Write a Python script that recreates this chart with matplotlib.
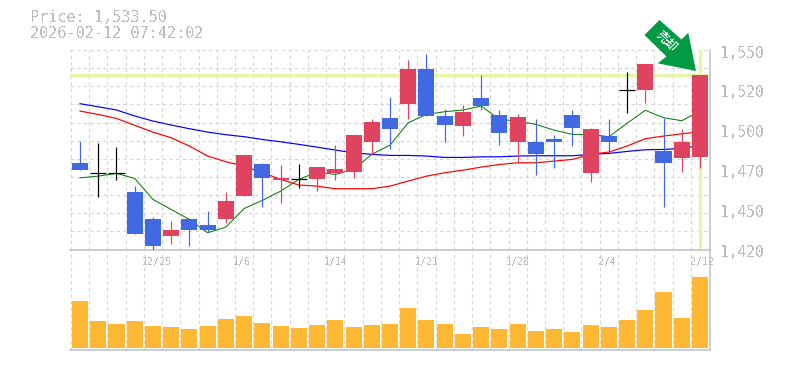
import matplotlib
matplotlib.use("Agg")
import matplotlib.pyplot as plt
from matplotlib.patches import Polygon

plt.rcParams["text.antialiased"] = False

W, H = 785, 370
title_price = "Price: 1,533.50"
title_time = "2026-02-12 07:42:02"
last_price = 1533.5
y_ticks = [1550, 1524, 1498, 1472, 1446, 1420]
y_labels = ["1,550", "1,520", "1,500", "1,470", "1,450", "1,420"]
date_labels = ["12/25", "1/6", "1/14", "1/21", "1/28", "2/4", "2/12"]

opens = [1476.1, 1470.0, 1470.0, 1457.2, 1440.2, 1428.5, 1439.6, 1435.7, 1439.6, 1454.6,
         1475.4, 1465.0, 1466.1, 1465.7, 1469.6, 1470.2, 1489.8, 1505.4, 1514.6, 1537.4,
         1506.7, 1500.2, 1518.5, 1507.4, 1489.8, 1489.8, 1491.7, 1507.4, 1469.6, 1493.7,
         1523.7, 1523.7, 1483.9, 1479.3, 1480.2]
closes = [1471.5, 1470.0, 1470.0, 1429.8, 1422.6, 1433.0, 1433.0, 1433.0, 1451.3, 1481.3,
          1466.3, 1466.3, 1466.1, 1473.5, 1472.2, 1494.3, 1502.8, 1498.3, 1537.4, 1506.7,
          1500.9, 1509.3, 1513.3, 1495.7, 1506.1, 1482.0, 1489.8, 1498.9, 1498.3, 1489.8,
          1523.7, 1540.7, 1476.1, 1489.8, 1533.5]
highs = [1490.9, 1489.6, 1486.5, 1461.7, 1440.9, 1438.3, 1439.6, 1445.4, 1457.2, 1481.3,
         1476.1, 1474.8, 1475.4, 1473.5, 1487.8, 1494.3, 1504.8, 1519.1, 1543.3, 1547.2,
         1511.3, 1513.9, 1533.5, 1510.7, 1508.0, 1504.8, 1494.3, 1510.7, 1498.9, 1504.8,
         1535.4, 1540.7, 1505.4, 1498.3, 1533.5]
lows = [1471.5, 1454.1, 1465.0, 1429.8, 1420.0, 1423.9, 1422.6, 1431.5, 1437.0, 1454.6,
        1447.4, 1450.0, 1459.8, 1457.8, 1465.0, 1466.3, 1481.3, 1485.2, 1504.8, 1506.7,
        1489.8, 1493.7, 1510.7, 1487.8, 1476.1, 1468.3, 1472.8, 1487.2, 1463.7, 1482.6,
        1508.7, 1515.2, 1448.0, 1470.2, 1472.8]
ma_short = [1466.7, 1467.8, 1469.6, 1466.3, 1452.6, 1446.1, 1439.6, 1430.9, 1434.6, 1446.7,
            1452.0, 1458.0, 1465.7, 1470.4, 1468.9, 1472.2, 1482.0, 1488.0, 1502.6, 1508.0,
            1509.8, 1510.9, 1513.5, 1504.8, 1503.7, 1501.5, 1497.8, 1495.0, 1495.0, 1493.5,
            1502.2, 1510.7, 1505.9, 1503.9, 1510.2]
ma_mid = [1510.2, 1508.0, 1505.4, 1500.9, 1496.5, 1492.8, 1487.4, 1480.9, 1477.2, 1474.3,
          1470.0, 1465.7, 1462.0, 1461.3, 1459.6, 1459.6, 1459.6, 1461.3, 1464.6, 1467.8,
          1470.0, 1471.7, 1473.7, 1475.4, 1476.5, 1476.5, 1477.6, 1478.7, 1482.0, 1483.5,
          1487.4, 1492.2, 1493.9, 1495.4, 1496.7]
ma_long = [1515.0, 1513.0, 1510.9, 1507.0, 1503.7, 1501.1, 1498.7, 1496.5, 1494.8, 1493.5,
           1491.7, 1490.2, 1488.5, 1486.7, 1484.8, 1483.0, 1482.0, 1481.3, 1481.3, 1480.9,
           1480.0, 1480.0, 1480.4, 1480.4, 1480.9, 1481.1, 1481.1, 1481.1, 1482.0, 1482.6,
           1483.9, 1485.0, 1485.2, 1485.9, 1487.8]
volume = [142, 82, 73, 82, 67, 64, 58, 67, 88, 97, 76, 67, 61, 70, 85, 64, 70, 73,
          121, 85, 73, 43, 64, 58, 73, 52, 58, 49, 70, 64, 85, 115, 169, 91, 214]
arrow_label = "売却"

UP, DOWN, DOJI = "#e0435f", "#4169e1", "#000000"
GRID, AXIS, TEXT = "#d4d4d4", "#bfbfbf", "#bdbdbd"
HL = "#e4f7a8"
px = 72 / 100
FONT = "DejaVu Sans Mono"
date_px = [157, 242, 336, 427, 518, 607, 702]

fig = plt.figure(figsize=(W / 100, H / 100), dpi=100, facecolor="white")
L, R = 70, 710
ax = fig.add_axes([L / W, 1 - 249.5 / H, (R - L) / W, 199.5 / H])
av = fig.add_axes([L / W, 1 - 350 / H, (R - L) / W, 100 / H])
n = len(opens)
xlim = (-0.55, n - 1 + 0.55)
ax.set_xlim(xlim)
av.set_xlim(xlim)
ax.set_ylim(1420, 1550)
av.set_ylim(-5, 295)

grid_x = [i + 0.5 for i in range(-1, n)]
for a in (ax, av):
    for g in grid_x[:-1]:
        a.axvline(g, color=GRID, lw=1.1 * px, dashes=(3, 3), zorder=0)
    a.tick_params(length=0)
    a.set_xticks([])
    a.set_yticks([])
    a.patch.set_alpha(0)
    for s in a.spines.values():
        s.set_visible(False)
for k in range(0, 12):
    ax.axhline(1420 + k * 130 / 11, color=GRID, lw=1.1 * px, dashes=(3, 3), zorder=0)

# right and bottom frame
for a in (ax, av):
    a.spines["right"].set_visible(True)
    a.spines["right"].set_color(AXIS)
    a.spines["right"].set_linewidth(1.5 * px)
    a.spines["bottom"].set_visible(True)
    a.spines["bottom"].set_color(AXIS)
    a.spines["bottom"].set_linewidth(1.5 * px)

ax.axhline(last_price, color=HL, lw=3.2 * px, zorder=1)
ax.axvline(n - 1, ymin=0.01, color=HL, lw=3.2 * px, zorder=1)

ax.plot(range(n), ma_long, color="#0000ff", lw=1.2 * px, zorder=2)
ax.plot(range(n), ma_mid, color="#ff0000", lw=1.2 * px, zorder=2)
ax.plot(range(n), ma_short, color="#007a00", lw=1.0 * px, zorder=2)

for i in range(n):
    o, c, h, l = opens[i], closes[i], highs[i], lows[i]
    col = UP if c > o else (DOWN if c < o else DOJI)
    ax.vlines(i, l, h, color=col, lw=1.2 * px, zorder=3)
    if c == o:
        ax.hlines(o, i - 0.44, i + 0.44, color=col, lw=1.2 * px, zorder=3)
    else:
        ax.bar(i, abs(c - o), bottom=min(o, c), width=0.88, color=col, lw=0, zorder=4)

av.bar(range(n), volume, width=0.88, color="#ffb833", lw=0, zorder=3)

for t, lab in zip(y_ticks, y_labels):
    ax.annotate(lab, xy=(1, (t - 1420) / 130), xycoords="axes fraction",
                xytext=(10 * px, -3 * px), textcoords="offset points",
                ha="left", va="center", family=FONT, fontsize=14.6 * px, color=TEXT)
for x, lab in zip(date_px, date_labels):
    fig.text(x / W, 1 - 262 / H, lab,
             ha="center", va="center", family=FONT, fontsize=10 * px, color=TEXT)

fig.text(30 / W, 1 - 18 / H, title_price, ha="left", va="center",
         family=FONT, fontsize=15.2 * px, color=TEXT)
fig.text(30 / W, 1 - 33 / H, title_time, ha="left", va="center",
         family=FONT, fontsize=15.2 * px, color=TEXT)

pts = [(659.5, 20), (644.5, 35), (666.5, 56.5), (657.7, 63.3), (696, 71), (688.3, 32.7), (681.5, 39.5)]
fig.add_artist(Polygon([(x / W, 1 - y / H) for x, y in pts], closed=True,
                       transform=fig.transFigure, facecolor="#009944", edgecolor="none", zorder=6))
fig.text(666 / W, 1 - 41 / H, arrow_label, rotation=-45, rotation_mode="anchor",
         ha="center", va="center", family="Noto Sans CJK JP", fontsize=12 * px,
         fontweight="bold", color="white", zorder=7)

fig.savefig("out.png", dpi=100)
